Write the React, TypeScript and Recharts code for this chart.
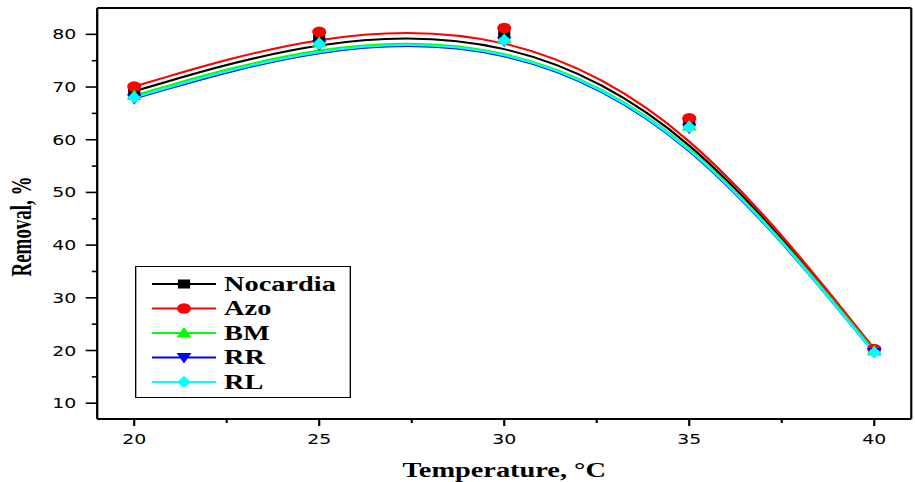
import React from 'react';
import { LineChart, Line, XAxis, YAxis, ReferenceLine, Legend } from 'recharts';

const temps = [20, 25, 30, 35, 40];
const nocardia = [69.2, 79.5, 80.1, 63.3, 20.0];
const azo = [70.1, 80.5, 81.2, 64.1, 20.3];
const bm = [68.4, 78.5, 79.1, 62.6, 19.9];
const rr = [67.8, 78.0, 78.7, 62.2, 19.6];
const rl = [68.0, 78.2, 78.9, 62.4, 19.6];

const xTicks = [20, 22.5, 25, 27.5, 30, 32.5, 35, 37.5, 40];
const yTicks = [10, 15, 20, 25, 30, 35, 40, 45, 50, 55, 60, 65, 70, 75, 80];

const series = [
  { key: 'nocardia', name: 'Nocardia', color: '#000000', shape: 'square', values: nocardia },
  { key: 'azo', name: 'Azo', color: '#FF0000', shape: 'circle', values: azo },
  { key: 'bm', name: 'BM', color: '#00FF00', shape: 'up', values: bm },
  { key: 'rr', name: 'RR', color: '#0000FF', shape: 'down', values: rr },
  { key: 'rl', name: 'RL', color: '#00FFFF', shape: 'diamond', values: rl },
];

const data = temps.map((t, i) => {
  const row: any = { t };
  series.forEach((s) => (row[s.key] = s.values[i]));
  return row;
});

const STRETCH = 1.35;
const W = 678;
const H = 482;
const serif = '"Liberation Serif", "Times New Roman", serif';
const sans = '"DejaVu Sans", sans-serif';

function Marker({ shape, cx, cy, color }: any) {
  if (cx == null || cy == null) return null;
  switch (shape) {
    case 'square':
      return <rect x={cx - 4.5} y={cy - 4.5} width={9} height={9} fill={color} />;
    case 'circle':
      return <circle cx={cx} cy={cy} r={5.2} fill={color} />;
    case 'up':
      return <polygon points={`${cx},${cy - 6} ${cx + 5.5},${cy + 4.5} ${cx - 5.5},${cy + 4.5}`} fill={color} />;
    case 'down':
      return <polygon points={`${cx},${cy + 6} ${cx + 5.5},${cy - 4.5} ${cx - 5.5},${cy - 4.5}`} fill={color} />;
    case 'diamond':
      return <polygon points={`${cx},${cy - 6} ${cx + 5},${cy} ${cx},${cy + 6} ${cx - 5},${cy}`} fill={color} />;
    default:
      return null;
  }
}

const YTick = (props: any) => {
  const { x, y, payload } = props;
  const major = payload.value % 10 === 0;
  return (
    <g>
      <line x1={x - (major ? 8.5 : 4)} x2={x} y1={y} y2={y} stroke="#000" strokeWidth={1.6} />
      {major && (
        <text x={x - 15.5} y={y} dy="0.36em" textAnchor="end" fontFamily={sans} fontSize={14} fill="#000">
          {payload.value}
        </text>
      )}
    </g>
  );
};

const XTick = (props: any) => {
  const { x, y, payload } = props;
  const major = payload.value % 5 === 0;
  return (
    <g>
      <line x1={x} x2={x} y1={y} y2={y + (major ? 7 : 4)} stroke="#000" strokeWidth={1.6} />
      {major && (
        <text x={x} y={y + 25} textAnchor="middle" fontFamily={sans} fontSize={14} fill="#000">
          {payload.value}
        </text>
      )}
    </g>
  );
};

const LegendBox = () => {
  const rowY = [18, 42.5, 67, 91.5, 116];
  return (
    <svg width={160} height={132} style={{ display: 'block' }}>
      <rect x={0.5} y={0.5} width={159} height={131} fill="#fff" stroke="#000" strokeWidth={1} />
      {series.map((s, i) => (
        <g key={s.key}>
          <line x1={12.6} x2={60} y1={rowY[i]} y2={rowY[i]} stroke={s.color} strokeWidth={2} />
          <Marker shape={s.shape} cx={36.3} cy={rowY[i]} color={s.color} />
          <text x={66} y={rowY[i] + 7} fontFamily={serif} fontWeight="bold" fontSize={21} fill="#000">
            {s.name}
          </text>
        </g>
      ))}
    </svg>
  );
};

export default function App() {
  return (
    <div
      style={{
        position: 'absolute',
        left: 0,
        top: 0,
        width: W,
        height: H,
        transform: `scaleX(${STRETCH})`,
        transformOrigin: '0 0',
        background: '#fff',
      }}
    >
      <LineChart width={W} height={H} data={data} margin={{ top: 8, right: 3, left: 0, bottom: 33 }}>
        <XAxis
          dataKey="t"
          type="number"
          domain={[19, 41]}
          ticks={xTicks}
          interval={0}
          tickSize={0}
          tickMargin={0}
          tickLine={false}
          tick={<XTick />}
          axisLine={{ stroke: '#000', strokeWidth: 2 }}
          height={30}
          label={(p: any) => {
            const vb = p.viewBox;
            return (
              <text
                x={vb.x + vb.width / 2}
                y={vb.y + 58}
                textAnchor="middle"
                fontFamily={serif}
                fontWeight="bold"
                fontSize={21}
                fill="#000"
              >
                Temperature, °C
              </text>
            );
          }}
        />
        <YAxis
          type="number"
          domain={[7, 85]}
          ticks={yTicks}
          interval={0}
          tickSize={0}
          tickMargin={0}
          tickLine={false}
          tick={<YTick />}
          axisLine={{ stroke: '#000', strokeWidth: 1.7 }}
          width={72}
          label={(p: any) => {
            const vb = p.viewBox;
            const cx = vb.x + 23;
            const cy = vb.y + vb.height / 2 + 13;
            return (
              <text
                transform={`translate(${cx},${cy}) rotate(-90)`}
                textAnchor="middle"
                fontFamily={serif}
                fontWeight="bold"
                fontSize={22}
                textLength={100}
                lengthAdjust="spacingAndGlyphs"
                fill="#000"
              >
                Removal, %
              </text>
            );
          }}
        />
        <ReferenceLine y={85} stroke="#000" strokeWidth={2} ifOverflow="extendDomain" />
        <ReferenceLine x={41} stroke="#000" strokeWidth={1.6} ifOverflow="extendDomain" />
        {series.map((s) => (
          <Line
            key={s.key}
            dataKey={s.key}
            name={s.name}
            type="basis"
            stroke={s.color}
            strokeWidth={2}
            isAnimationActive={false}
            dot={(p: any) => <Marker key={`${s.key}-${p.index}`} shape={s.shape} cx={p.cx} cy={p.cy} color={s.color} />}
            activeDot={false}
          />
        ))}
        <Legend
          layout="horizontal"
          verticalAlign="middle"
          align="center"
          content={() => <LegendBox />}
          wrapperStyle={{ position: 'absolute', left: 100, top: 266, width: 160, height: 132 }}
        />
      </LineChart>
    </div>
  );
}
